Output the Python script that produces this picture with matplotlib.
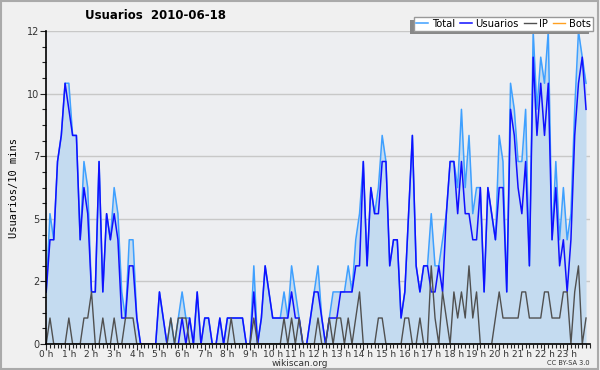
import numpy as np
import matplotlib.pyplot as plt
from matplotlib.patches import Rectangle

# valeurs par tranche de 10 minutes (144 points)
total = [2, 5, 4, 7, 8, 10, 10, 8, 8, 4, 7, 6, 2, 2, 7, 2, 5, 4, 6, 5,
         2, 1, 4, 4, 1, 0, 0, 0, 0, 0, 2, 1, 0, 1, 0, 1, 2, 1, 1, 0,
         2, 0, 1, 1, 0, 0, 1, 0, 1, 1, 1, 1, 1, 0, 0, 3, 0, 1, 3, 2,
         1, 1, 1, 2, 1, 3, 2, 1, 0, 0, 1, 2, 3, 1, 0, 1, 2, 2, 2, 2,
         3, 2, 4, 5, 7, 3, 6, 5, 6, 8, 7, 3, 4, 4, 1, 2, 5, 8, 3, 2,
         3, 3, 5, 3, 3, 4, 5, 7, 7, 6, 9, 6, 8, 5, 6, 6, 2, 6, 5, 4,
         8, 7, 2, 10, 9, 7, 7, 9, 3, 12, 9, 11, 10, 12, 4, 7, 4, 6, 4, 5,
         9, 12, 11, 10]
usuarios = [2, 4, 4, 7, 8, 10, 9, 8, 8, 4, 6, 5, 2, 2, 7, 2, 5, 4, 5, 4,
            1, 1, 3, 3, 1, 0, 0, 0, 0, 0, 2, 1, 0, 0, 0, 0, 1, 0, 1, 0,
            2, 0, 1, 1, 0, 0, 1, 0, 1, 1, 1, 1, 1, 0, 0, 2, 0, 1, 3, 2,
            1, 1, 1, 1, 1, 2, 1, 1, 0, 0, 1, 2, 2, 1, 0, 1, 1, 1, 2, 2,
            2, 2, 3, 3, 7, 3, 6, 5, 5, 7, 7, 3, 4, 4, 1, 2, 5, 8, 3, 2,
            3, 3, 2, 2, 3, 2, 5, 7, 7, 5, 7, 5, 5, 4, 4, 6, 2, 6, 5, 4,
            6, 6, 2, 9, 8, 6, 5, 7, 3, 11, 8, 10, 8, 10, 4, 6, 3, 4, 2, 4,
            8, 10, 11, 9]
ip = [0, 1, 0, 0, 0, 0, 1, 0, 0, 0, 1, 1, 2, 0, 0, 1, 0, 0, 1, 0,
      0, 1, 1, 1, 0, 0, 0, 0, 0, 0, 0, 0, 0, 1, 0, 1, 1, 1, 0, 0,
      0, 0, 0, 0, 0, 0, 0, 0, 0, 1, 0, 0, 0, 0, 0, 1, 0, 0, 0, 0,
      0, 0, 0, 1, 0, 1, 0, 1, 0, 0, 0, 0, 1, 0, 0, 1, 0, 1, 1, 0,
      1, 0, 1, 2, 0, 0, 0, 0, 1, 1, 0, 0, 0, 0, 0, 1, 1, 0, 0, 1,
      0, 0, 3, 1, 0, 2, 1, 0, 2, 1, 2, 1, 3, 1, 2, 0, 0, 0, 0, 1,
      2, 1, 1, 1, 1, 1, 2, 2, 1, 1, 1, 1, 2, 2, 1, 1, 1, 2, 2, 0,
      2, 3, 0, 1]
bots = [0] * 144

heures = ['%d h' % h for h in range(24)]

x = np.arange(len(total)) / 6.0

fig = plt.figure(figsize=(6, 3.7), dpi=100, facecolor='#f0f0f0')
ax = fig.add_axes([0.077, 0.070, 0.906, 0.846])
ax.set_facecolor('#edeef1')

ax.fill_between(x, 0, total, color='#c4dbf0', lw=0)
ax.plot(x, total, color='#3fa0ff', lw=1.1, label='Total')
ax.plot(x, usuarios, color='#1010ff', lw=1.1, label='Usuarios')
ax.plot(x, ip, color='#505050', lw=1.0, label='IP')
ax.plot(x, bots, color='#ffa020', lw=1.0, label='Bots')

ax.set_xlim(0, 24)
ax.set_ylim(0, 12)
yt = np.linspace(0, 12, 6)
ax.set_yticks(yt)
ax.set_yticklabels(['%d' % round(v) for v in yt])
ax.set_yticks(np.arange(0, 12.01, 0.6), minor=True)
ax.set_xticks(range(24))
ax.set_xticklabels(heures)
ax.set_xticks(np.arange(0, 24.01, 1 / 6.0), minor=True)
ax.tick_params(axis='both', which='major', colors='#333333',
               length=4, width=0.8, pad=1)
ax.tick_params(axis='x', which='major', labelsize=6.5, pad=0.5)
ax.tick_params(axis='y', which='major', labelsize=7)
ax.tick_params(axis='both', which='minor', length=3, width=0.8, color='#222222')
ax.tick_params(axis='both', which='major', color='#222222')

ax.grid(True, axis='y', which='major', color='#c8c8c8', lw=1)
ax.set_axisbelow(True)
for s in ['top', 'right']:
    ax.spines[s].set_visible(False)
for s in ['left', 'bottom']:
    ax.spines[s].set_color('black')
    ax.spines[s].set_linewidth(1.2)

ax.set_ylabel('Usuarios/10 mins', family='DejaVu Sans Mono', fontsize=7.5, labelpad=6)

fig.text(0.142, 0.957, 'Usuarios  2010-06-18', fontsize=8.5, fontweight='bold',
         ha='left', va='center')
fig.text(0.5, 0.018, 'wikiscan.org', fontsize=6.5, ha='center', va='center', color='#333333')
fig.text(0.983, 0.018, 'CC BY-SA 3.0', fontsize=4.8, ha='right', va='center', color='#333333')

# légende, l'ombre est décalée vers la gauche et le bas
leg = fig.legend(loc='upper right', bbox_to_anchor=(0.988, 0.955), ncol=4,
                 fontsize=7.2, frameon=True, fancybox=False, shadow=False,
                 handlelength=1.2, handletextpad=0.35, columnspacing=0.5,
                 borderpad=0.2, borderaxespad=0)
leg.get_frame().set_edgecolor('#999999')
leg.get_frame().set_facecolor('white')
leg.get_frame().set_alpha(1)
leg.set_zorder(10)

fig.canvas.draw()
fb = leg.get_frame().get_window_extent()
ombre = Rectangle((fb.x0 - 4, fb.y0 - 3), fb.width, fb.height, transform=None,
                  facecolor='#888888', edgecolor='none', zorder=9)
fig.patches.append(ombre)

fig.patches.append(Rectangle((0.002, 0.003), 0.995, 0.994, transform=fig.transFigure,
                             fill=False, edgecolor='#aaaaaa', lw=1.5))

plt.savefig('out.png', dpi=100, facecolor=fig.get_facecolor())
